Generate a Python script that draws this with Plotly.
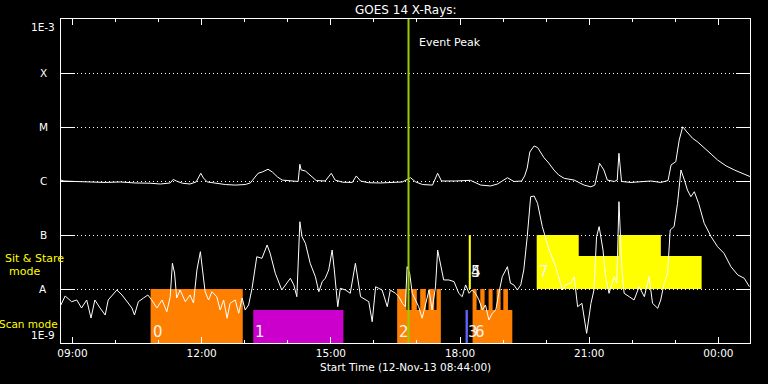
import plotly.graph_objects as go
import pandas as pd

BASE = pd.Timestamp("2013-11-12 00:00")

# ---------------- data ----------------
# GOES 14 long channel (1-8 A), hours since 12-Nov-13 00:00, flux W/m^2
long_hours = [8.73, 8.80, 9.06, 9.41, 9.76, 10.11, 10.45, 10.80, 11.04, 11.27, 11.34, 11.41, 11.55, 11.73,
              11.87, 11.98, 12.04, 12.13, 12.31, 12.55, 12.78, 13.01, 13.13, 13.25, 13.31, 13.41, 13.54,
              13.64, 13.76, 13.87, 14.06, 14.24, 14.28, 14.31, 14.41, 14.52, 14.66, 14.87, 15.01, 15.10,
              15.27, 15.50, 15.59, 15.69, 15.87, 16.15, 16.43, 16.66, 16.85, 16.97, 17.13, 17.36, 17.48,
              17.57, 17.90, 18.24, 18.48, 18.71, 18.87, 19.10, 19.25, 19.43, 19.50, 19.56, 19.62, 19.72,
              19.80, 19.95, 20.06, 20.18, 20.29, 20.42, 20.65, 20.88, 21.04, 21.13, 21.18, 21.24, 21.34,
              21.42, 21.58, 21.65, 21.69, 21.75, 21.97, 22.20, 22.43, 22.66, 22.83, 22.90, 23.01, 23.09,
              23.17, 23.27, 23.40, 23.52, 23.67, 23.83, 23.98, 24.18, 24.37, 24.55, 24.73]
long_flux = [1.04e-6, 1.0e-6, 0.98e-6, 0.96e-6, 0.94e-6, 0.96e-6, 0.92e-6, 0.91e-6, 0.88e-6, 0.92e-6,
             1.07e-6, 1.0e-6, 0.91e-6, 0.88e-6, 0.96e-6, 1.39e-6, 1.14e-6, 0.96e-6, 0.91e-6, 0.86e-6,
             0.84e-6, 0.86e-6, 0.92e-6, 1.19e-6, 1.39e-6, 1.47e-6, 1.65e-6, 1.47e-6, 1.19e-6, 1.04e-6,
             1.0e-6, 0.98e-6, 2.04e-6, 1.60e-6, 1.53e-6, 1.29e-6, 1.02e-6, 1.0e-6, 1.39e-6, 1.04e-6,
             0.95e-6, 0.94e-6, 1.24e-6, 1.0e-6, 0.93e-6, 0.92e-6, 0.94e-6, 0.96e-6, 1.15e-6, 0.96e-6,
             0.86e-6, 0.84e-6, 1.39e-6, 1.0e-6, 1.0e-6, 1.03e-6, 0.84e-6, 0.81e-6, 0.88e-6, 1.15e-6,
             0.98e-6, 1.0e-6, 1.24e-6, 1.74e-6, 3.44e-6, 4.45e-6, 4.17e-6, 2.70e-6, 2.15e-6, 1.60e-6,
             1.29e-6, 1.12e-6, 1.04e-6, 0.84e-6, 0.78e-6, 0.84e-6, 1.29e-6, 2.13e-6, 1.60e-6, 1.04e-6,
             0.98e-6, 1.04e-6, 3.26e-6, 0.98e-6, 0.94e-6, 0.97e-6, 1.0e-6, 0.94e-6, 1.02e-6, 1.98e-6,
             2.28e-6, 5.74e-6, 1.01e-5, 8.07e-6, 6.18e-6, 5.27e-6, 4.04e-6, 3.16e-6, 2.45e-6, 1.90e-6,
             1.60e-6, 1.41e-6, 1.21e-6]

# GOES 14 short channel (0.5-4 A)
short_hours = [8.73, 8.83, 8.98, 9.10, 9.21, 9.33, 9.43, 9.52, 9.64, 9.76, 9.83, 9.95, 10.03, 10.15,
               10.26, 10.38, 10.44, 10.53, 10.65, 10.75, 10.84, 10.96, 11.08, 11.19, 11.27, 11.32, 11.37,
               11.42, 11.50, 11.62, 11.73, 11.81, 11.89, 11.97, 12.02, 12.08, 12.16, 12.24, 12.35, 12.43,
               12.51, 12.59, 12.66, 12.78, 12.86, 12.94, 13.01, 13.09, 13.17, 13.28, 13.40, 13.52, 13.59,
               13.71, 13.86, 13.98, 14.06, 14.14, 14.21, 14.28, 14.33, 14.41, 14.52, 14.64, 14.72, 14.80,
               14.87, 14.95, 15.03, 15.08, 15.16, 15.22, 15.34, 15.45, 15.57, 15.69, 15.80, 15.88, 15.96,
               16.04, 16.11, 16.19, 16.31, 16.38, 16.50, 16.58, 16.66, 16.73, 16.77, 16.83, 16.89, 16.97,
               17.04, 17.12, 17.20, 17.28, 17.35, 17.43, 17.48, 17.55, 17.62, 17.74, 17.86, 17.97, 18.05,
               18.13, 18.21, 18.28, 18.36, 18.44, 18.52, 18.59, 18.67, 18.75, 18.83, 18.90, 18.98, 19.10,
               19.17, 19.25, 19.33, 19.41, 19.48, 19.56, 19.62, 19.64, 19.72, 19.80, 19.91, 20.07, 20.22,
               20.38, 20.45, 20.57, 20.65, 20.73, 20.83, 20.94, 21.04, 21.11, 21.17, 21.23, 21.32, 21.38,
               21.46, 21.58, 21.64, 21.69, 21.76, 21.81, 21.93, 22.04, 22.16, 22.28, 22.39, 22.47, 22.59,
               22.66, 22.74, 22.82, 22.88, 22.97, 23.05, 23.13, 23.21, 23.28, 23.36, 23.44, 23.54, 23.67,
               23.83, 23.98, 24.13, 24.29, 24.45, 24.60, 24.72]
short_flux = [5.06e-9, 7.42e-9, 5.82e-9, 6.26e-9, 4.45e-9, 6.26e-9, 2.90e-9, 6.26e-9, 4.45e-9, 3.30e-9,
              6.26e-9, 8.08e-9, 9.58e-9, 7.74e-9, 5.82e-9, 4.45e-9, 3.30e-9, 5.82e-9, 6.81e-9, 7.74e-9,
              6.26e-9, 4.45e-9, 6.26e-9, 3.80e-9, 7.2e-9, 2.99e-8, 1.98e-8, 6.81e-9, 9.58e-9, 5.82e-9,
              7.74e-9, 5.5e-9, 2.25e-8, 4.91e-8, 2.25e-8, 8.91e-9, 6.26e-9, 8.91e-9, 7.2e-9, 4.08e-9,
              6.26e-9, 2.87e-9, 5.43e-9, 6.26e-9, 3.55e-9, 6.81e-9, 4.08e-9, 5.06e-9, 1.03e-8, 3.96e-8,
              3.70e-8, 6.53e-8, 4.58e-8, 1.95e-8, 9.58e-9, 1.28e-8, 1.58e-8, 1.19e-8, 7.2e-9, 1.76e-7,
              9.3e-8, 7.0e-8, 2.99e-8, 1.69e-8, 8.91e-9, 1.37e-8, 1.58e-8, 2.25e-8, 5.27e-8, 2.25e-8,
              4.70e-9, 1.03e-8, 9.58e-9, 8.32e-9, 2.99e-8, 7.2e-9, 6.26e-9, 5.82e-9, 2.48e-9, 1.10e-8,
              1.03e-8, 9.58e-9, 4.70e-9, 9.58e-9, 8.32e-9, 7.2e-9, 5.43e-9, 4.70e-9, 2.59e-8, 1.95e-8,
              8.32e-9, 6.26e-9, 4.70e-9, 2.87e-9, 5.43e-9, 9.58e-9, 4.08e-9, 1.10e-8, 5.27e-8, 2.59e-8,
              1.47e-8, 1.47e-8, 1.37e-8, 8.32e-9, 7.2e-9, 1.19e-8, 8.32e-9, 9.58e-9, 8.32e-9, 6.26e-9,
              4.08e-9, 5.06e-9, 2.67e-9, 3.55e-9, 4.08e-9, 8.32e-9, 1.69e-8, 2.59e-8, 1.28e-8, 1.19e-8,
              9.58e-9, 1.19e-8, 2.25e-8, 9.3e-8, 3.34e-7, 5.12e-7, 5.27e-7, 3.86e-7, 1.43e-7, 5.27e-8,
              2.59e-8, 9.58e-9, 1.19e-8, 1.28e-8, 1.69e-8, 4.70e-9, 5.43e-9, 1.51e-9, 5.43e-9, 9.58e-9,
              9.3e-8, 1.43e-7, 5.27e-8, 1.69e-8, 8.32e-9, 1.69e-8, 1.28e-8, 4.14e-7, 2.25e-8, 8.32e-9,
              7.2e-9, 6.26e-9, 1.10e-8, 7.2e-9, 1.69e-8, 5.43e-9, 4.39e-9, 6.26e-9, 1.28e-8, 1.95e-8,
              1.24e-7, 1.43e-7, 3.86e-7, 1.60e-6, 1.04e-6, 6.81e-7, 5.12e-7, 6.34e-7, 3.86e-7, 1.65e-7,
              9.3e-8, 6.07e-8, 4.58e-8, 2.59e-8, 1.82e-8, 1.58e-8, 1.10e-8]

# IRIS observations: id, colour, bottom level, label level
obs_ids = [0, 1, 2, 3, 4, 5, 6, 7]
obs_colors = ["#ff8000", "#cc00cc", "#ff8000", "#6464ff", "#ffff00", "#ffff00", "#ff8000", "#ffff00"]
obs_bottom = [1e-9, 1e-9, 1e-9, 1e-9, 1e-8, 1e-8, 1e-9, 1e-8]
obs_label_logy = [-8.80, -8.80, -8.80, -8.80, -7.69, -7.69, -8.80, -7.69]

# observation segments (hours since 12-Nov-13 00:00) with top level
seg_obs = [0, 1,
           2, 2, 2, 2, 2, 2, 2, 2, 2,
           3, 4, 5,
           6, 6, 6, 6, 6, 6, 6, 6, 6, 6,
           7, 7, 7, 7]
seg_start = [10.814, 13.198,
             16.540, 16.756, 16.873, 16.996, 17.075, 17.205, 17.268, 17.400, 17.454,
             18.128, 18.205, 18.205,
             18.291, 18.384, 18.470, 18.570, 18.663, 18.756, 18.849, 18.942, 19.005, 19.112,
             19.780, 20.756, 21.680, 22.663]
seg_end = [12.954, 15.291,
           16.756, 16.873, 16.996, 17.075, 17.205, 17.268, 17.400, 17.454, 17.554,
           18.182, 18.245, 18.245,
           18.384, 18.470, 18.570, 18.663, 18.756, 18.849, 18.942, 19.005, 19.112, 19.214,
           20.756, 21.680, 22.663, 23.610]
seg_top = [1e-8, 4.1e-9,
           1e-8, 4.1e-9, 1e-8, 4.1e-9, 1e-8, 4.1e-9, 1e-8, 4.1e-9, 1e-8,
           4.1e-9, 1e-7, 1e-7,
           1e-8, 4.1e-9, 1e-8, 4.1e-9, 1e-8, 4.1e-9, 1e-8, 4.1e-9, 1e-8, 4.1e-9,
           1e-7, 4.1e-8, 1e-7, 4.1e-8]

event_peak_hours = 16.803
x_range_hours = [8 + 44 / 60, 24 + 44 / 60]

level_names = ["1E-3", "X", "M", "C", "B", "A", "1E-9"]
level_logs = [-3, -4, -5, -6, -7, -8, -9]


def to_time(hours):
    return [BASE + pd.Timedelta(hours=h) for h in hours]


FONT = "DejaVu Sans"
fig = go.Figure()

# observation blocks
for k, obs in enumerate(obs_ids):
    idx = [i for i, o in enumerate(seg_obs) if o == obs]
    xs = [seg_start[idx[0]]]
    ys = [obs_bottom[k]]
    for i in idx:
        xs += [seg_start[i], seg_end[i]]
        ys += [seg_top[i], seg_top[i]]
    xs.append(seg_end[idx[-1]])
    ys.append(obs_bottom[k])
    xs.append(xs[0])
    ys.append(ys[0])
    fig.add_trace(go.Scatter(x=to_time(xs), y=ys, mode="lines", fill="toself",
                             fillcolor=obs_colors[k], line=dict(width=0, color=obs_colors[k]),
                             hoverinfo="skip"))

# GOES curves
fig.add_trace(go.Scatter(x=to_time(short_hours), y=short_flux, mode="lines",
                         line=dict(color="white", width=1)))
fig.add_trace(go.Scatter(x=to_time(long_hours), y=long_flux, mode="lines",
                         line=dict(color="white", width=1)))

annotations = []
# observation labels
for k, obs in enumerate(obs_ids):
    idx = [i for i, o in enumerate(seg_obs) if o == obs]
    annotations.append(dict(x=to_time([seg_start[idx[0]]])[0], y=obs_label_logy[k], xref="x", yref="y",
                            text=str(obs), showarrow=False, xanchor="left", yanchor="middle",
                            font=dict(family=FONT, size=15, color="#f4f4f4")))

# level labels
for name, lg in zip(level_names, level_logs):
    anchor = "middle"
    if lg == -3:
        anchor = "top"
    elif lg == -9:
        anchor = "bottom"
    annotations.append(dict(x=-0.0254, y=lg, xref="paper", yref="y", text=name, showarrow=False,
                            xanchor="center", yanchor=anchor,
                            font=dict(family=FONT, size=10.5, color="white")))

annotations += [
    dict(x=0.0, y=-7.435, xref="paper", yref="y", text="Sit & Stare", showarrow=False,
         xanchor="center", yanchor="middle", xshift=-27,
         font=dict(family=FONT, size=11, color="#ffff00")),
    dict(x=0.0, y=-7.667, xref="paper", yref="y", text="mode", showarrow=False,
         xanchor="center", yanchor="middle", xshift=-37,
         font=dict(family=FONT, size=11, color="#ffff00")),
    dict(x=0.0, y=-8.639, xref="paper", yref="y", text="Scan mode", showarrow=False,
         xanchor="center", yanchor="middle", xshift=-33,
         font=dict(family=FONT, size=10.5, color="#ffff00")),
    dict(x=0.5, y=1.0278, xref="paper", yref="paper", text="GOES 14 X-Rays:", showarrow=False,
         xanchor="center", yanchor="middle", font=dict(family=FONT, size=12, color="white")),
    dict(x=0.5, y=-0.0756, xref="paper", yref="paper", text="Start Time (12-Nov-13 08:44:00)",
         showarrow=False, xanchor="center", yanchor="middle",
         font=dict(family=FONT, size=10.5, color="white")),
    dict(x=to_time([event_peak_hours])[0], y=-3.444, xref="x", yref="y", text="Event Peak",
         showarrow=False, xanchor="left", yanchor="middle", xshift=8,
         font=dict(family=FONT, size=11, color="white")),
]

shapes = [dict(type="line", xref="x", yref="paper",
               x0=to_time([event_peak_hours])[0], x1=to_time([event_peak_hours])[0], y0=0, y1=1,
               line=dict(color="#99cc00", width=2), layer="above")]

x_range = to_time(x_range_hours)
fig.update_layout(
    width=768, height=384,
    margin=dict(l=61, r=18, t=19, b=41),
    paper_bgcolor="black", plot_bgcolor="black",
    showlegend=False,
    font=dict(family=FONT, color="white"),
    annotations=annotations,
    shapes=shapes,
    xaxis=dict(type="date", range=x_range, showline=True, linecolor="white", linewidth=1,
               mirror="ticks", ticks="inside", ticklen=6, tickcolor="white", tickwidth=1,
               tick0="2013-11-12 09:00", dtick=3 * 3600 * 1000, tickformat="%H:%M",
               tickfont=dict(family=FONT, size=10.5, color="white"),
               showgrid=False, zeroline=False,
               minor=dict(tick0="2013-11-12 09:00", dtick=3600 * 1000, ticks="inside", ticklen=3,
                          tickcolor="white", showgrid=False)),
    yaxis=dict(type="log", range=[-9, -3], showline=True, linecolor="white", linewidth=1,
               mirror="ticks", ticks="inside", ticklen=14, tickcolor="white", tickwidth=1,
               tickvals=[1e-8, 1e-7, 1e-6, 1e-5, 1e-4], showticklabels=False,
               showgrid=True, gridcolor="white", gridwidth=1, griddash="1px,3px",
               zeroline=False),
)

fig.write_html("out.html", config={"displayModeBar": False},
               post_script="document.body.style.margin='0';document.body.style.background='black';")
